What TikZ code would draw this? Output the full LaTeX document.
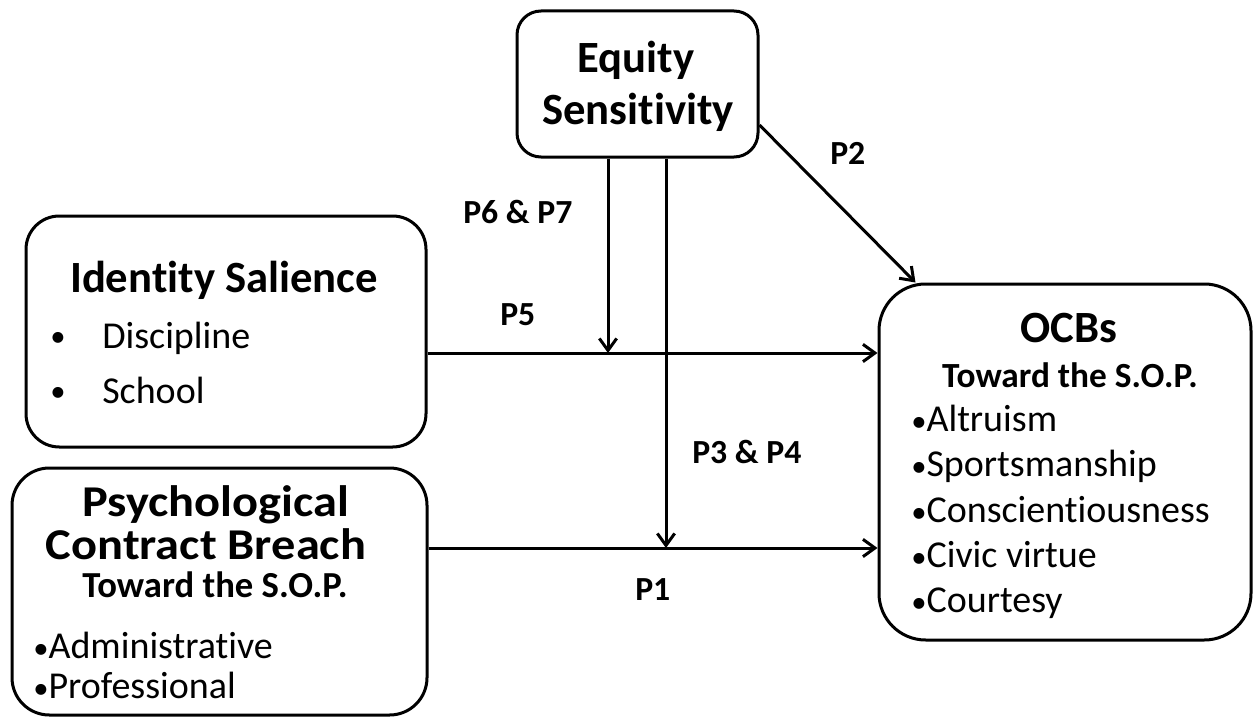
\documentclass[tikz,border=0pt]{standalone}
\usepackage{fontspec}
\setmainfont{Carlito}[Ligatures={NoCommon,NoContextual}]
\usetikzlibrary{arrows.meta,calc}
\newcommand{\smbul}{{\fontsize{23}{23}\selectfont •}}
\begin{document}
\begin{tikzpicture}[x=0.75pt,y=-0.75pt,
 box/.style={draw,line width=2.25pt,inner sep=0pt},
 conn/.style={line width=2.25pt,-{Straight Barb[length=9pt,width=13pt,line width=2.25pt]}},
 title/.style={font=\fontsize{33.5}{40}\selectfont\bfseries,anchor=base,inner sep=0pt},
 bigtitle/.style={font=\fontsize{33}{40}\selectfont\bfseries,anchor=base,inner sep=0pt},
 sub/.style={font=\fontsize{26.5}{32}\selectfont\bfseries,anchor=base,inner sep=0pt},
 item/.style={font=\fontsize{28.5}{34}\selectfont,anchor=base west,inner sep=0pt},
 lab/.style={font=\fontsize{25.3}{30}\selectfont\bfseries,anchor=base west,inner sep=0pt}]
\useasboundingbox (0,0) rectangle (1254,717);

% boxes
\node[box,rounded corners=18pt,minimum width={241*0.75pt},minimum height={146*0.75pt}] (eq) at (637.5,84) {};
\node[box,rounded corners=25pt,minimum width={400*0.75pt},minimum height={231*0.75pt}] (is) at (226,331.5) {};
\node[box,rounded corners=28pt,minimum width={415*0.75pt},minimum height={247*0.75pt}] (pcb) at (219.5,591.5) {};
\node[box,rounded corners=35pt,minimum width={372*0.75pt},minimum height={356*0.75pt}] (ocb) at (1065,462) {};

% Equity Sensitivity text
\node[title] (eqt1) at (636,73) {Equity};
\node[title] (eqt2) at (638,125) {Sensitivity};

% Identity Salience text
\node[title] (ist) at (224,292) {Identity Salience};
\node[item] (isb1) at (50,346) {\smbul};
\node[item] (isi1) at (102,348) {Discipline};
\node[item] (isb2) at (50,401) {\smbul};
\node[item] (isi2) at (102,403) {School};

% Psychological Contract Breach text
\node[bigtitle] (pt1) at (216,516) {\scalebox{1.1}[1]{Psychological}};
\node[bigtitle] (pt2) at (206,559) {\scalebox{1.1}[1]{Contract Breach}};
\node[sub,font=\fontsize{27.5}{32}\selectfont\bfseries] (pt3) at (215,597) {Toward the S.O.P.};
\node[item] (pi1) at (33,658) {\smbul Administrative};
\node[item] (pi2) at (33,698) {\smbul Professional};

% OCBs text
\node[title] (ot1) at (1069,342) {OCBs};
\node[sub] (ot2) at (1070,387) {Toward the S.O.P.};
\node[item] (oi1) at (911,431) {\smbul Altruism};
\node[item] (oi2) at (911,476) {\smbul Sportsmanship};
\node[item] (oi3) at (911,522) {\smbul Conscientiousness};
\node[item] (oi4) at (911,567) {\smbul Civic virtue};
\node[item] (oi5) at (911,612) {\smbul Courtesy};

% labels
\node[lab] (l67) at (463,223) {P6 \& P7};
\node[lab] (l5) at (500,325) {P5};
\node[lab] (l34) at (692,463) {P3 \& P4};
\node[lab] (l1) at (635,600) {P1};
\node[lab] (l2) at (830,165) {P2};

% connectors
\coordinate (j1) at (608,353);
\coordinate (j2) at (666,548);
\coordinate (d0) at (758,125);
\draw[conn] (is.east |- j1) -- (ocb.west |- j1);
\draw[conn] (pcb.east |- j2) -- (ocb.west |- j2);
\draw[conn] (eq.south -| j1) -- (j1);
\draw[conn] (eq.south -| j2) -- (j2);
\draw[conn] (eq.east |- d0) -- ($(ocb.north west)+(38,0)$);
\end{tikzpicture}
\end{document}
